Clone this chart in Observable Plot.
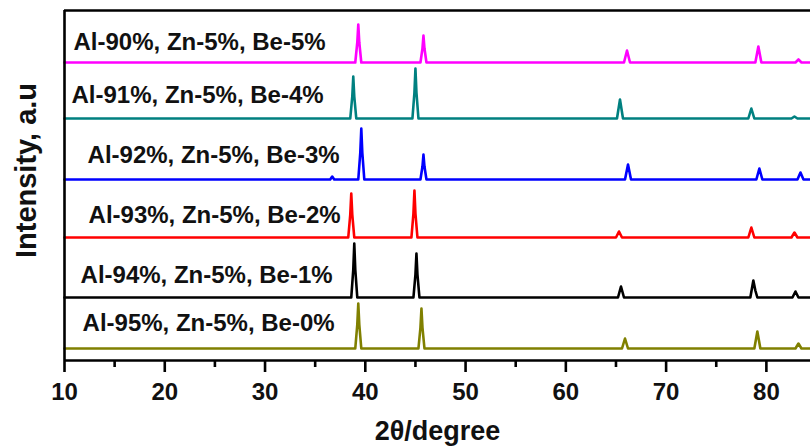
<!DOCTYPE html>
<html>
<head>
<meta charset="utf-8">
<script src="https://cdn.jsdelivr.net/npm/d3@7"></script>
<script src="https://cdn.jsdelivr.net/npm/@observablehq/plot@0.6"></script>
<style>
  html, body { margin: 0; padding: 0; background: #fff; }
  #chart svg { font-family: "Liberation Sans", Arial, sans-serif; }
</style>
</head>
<body>
<div id="chart"></div>
<script>
// Sample names (top to bottom in the figure)
const sampleNames = [
  "Al-90%, Zn-5%, Be-5%",
  "Al-91%, Zn-5%, Be-4%",
  "Al-92%, Zn-5%, Be-3%",
  "Al-93%, Zn-5%, Be-2%",
  "Al-94%, Zn-5%, Be-1%",
  "Al-95%, Zn-5%, Be-0%"
];
const sampleColors = ["#ff00ff", "#008080", "#0000ff", "#ff0000", "#000000", "#808000"];
// vertical stacking offset of each trace (intensity, a.u.)
const stackOffsets = [298, 242, 181, 123, 63, 12];

// Traces: [2θ, intensity]
const al90 = [[10,0],[39.0,0],[39.2,20],[39.3,38],[39.4,20],[39.6,0],[45.5,0],[45.7,14],[45.8,27],[45.9,14],[46.1,0],[65.8,0],[66.1,12],[66.4,0],[78.9,0],[79.2,16],[79.5,0],[82.9,0],[83.2,3],[83.5,0],[84.5,0]];
const al91 = [[10,0],[38.5,0],[38.7,22],[38.8,42],[38.9,22],[39.1,0],[44.7,0],[44.9,26],[45.0,50],[45.1,26],[45.3,0],[65.1,0],[65.4,19],[65.7,0],[78.2,0],[78.5,10],[78.8,0],[82.5,0],[82.8,2],[83.1,0],[84.5,0]];
const al92 = [[10,0],[36.5,0],[36.7,3],[36.9,0],[39.3,0],[39.5,27],[39.6,51],[39.7,27],[39.9,0],[45.5,0],[45.7,13],[45.8,25],[45.9,13],[46.1,0],[65.9,0],[66.2,15],[66.5,0],[79.0,0],[79.3,11],[79.6,0],[83.1,0],[83.4,7],[83.7,0],[84.5,0]];
const al93 = [[10,0],[38.3,0],[38.5,23],[38.6,44],[38.7,23],[38.9,0],[44.6,0],[44.8,24],[44.9,47],[45.0,24],[45.2,0],[65.0,0],[65.3,6],[65.6,0],[78.2,0],[78.5,10],[78.8,0],[82.5,0],[82.8,5],[83.1,0],[84.5,0]];
const al94 = [[10,0],[38.6,0],[38.8,28],[38.9,54],[39.0,28],[39.2,0],[44.8,0],[45.0,23],[45.1,44],[45.2,23],[45.4,0],[65.2,0],[65.5,11],[65.8,0],[78.4,0],[78.7,17],[78.9,7],[79.1,0],[82.6,0],[82.9,6],[83.2,0],[84.5,0]];
const al95 = [[10,0],[39.0,0],[39.2,24],[39.3,45],[39.4,24],[39.6,0],[45.3,0],[45.5,21],[45.6,40],[45.7,21],[45.9,0],[65.6,0],[65.9,10],[66.2,0],[78.8,0],[79.1,17],[79.4,0],[82.9,0],[83.2,5],[83.5,0],[84.5,0]];
const traces = [al90, al91, al92, al93, al94, al95];

// Axis ticks
const majorTicks = [10, 20, 30, 40, 50, 60, 70, 80];
const minorTicks = [15, 25, 35, 45, 55, 65, 75];

// Label anchor (2θ, intensity) for each sample name
const labelX = [10.9, 10.7, 12.3, 12.4, 11.6, 11.8];
const labelY = [318, 265, 205, 145, 85, 37];

const rows = traces.flatMap((t, i) =>
  t.map(([x, v]) => ({x, y: v + stackOffsets[i], s: sampleNames[i]})));
const labels = sampleNames.map((name, i) => ({name, x: labelX[i], y: labelY[i]}));

const chart = Plot.plot({
  width: 810,
  height: 448,
  marginLeft: 64,
  marginRight: 0,
  marginTop: 10,
  marginBottom: 88,
  x: {domain: [10, 84.4]},
  y: {domain: [0, 350], axis: null},
  color: {domain: sampleNames, range: sampleColors},
  marks: [
    Plot.line(rows, {x: "x", y: "y", z: "s", stroke: "s", strokeWidth: 2.6, curve: "linear"}),
    Plot.text(labels, {x: "x", y: "y", text: "name", textAnchor: "start", fontSize: 24, fontWeight: "bold", fill: "#111"}),
    Plot.ruleY([0], {stroke: "#000", strokeWidth: 2.6}),
    Plot.ruleY([350], {stroke: "#000", strokeWidth: 2.6}),
    Plot.ruleX([10], {stroke: "#000", strokeWidth: 2.6}),
    Plot.axisX({ticks: minorTicks, tickSize: 7, text: null, strokeWidth: 2.6, label: null}),
    Plot.axisX({ticks: majorTicks, tickSize: 12, tickPadding: 10, strokeWidth: 2.6, fontSize: 24, fontWeight: "bold", fill: "#111", label: null}),
    Plot.text(["2θ/degree"], {frameAnchor: "bottom", dy: 71, fontSize: 27, fontWeight: "bold", fill: "#111", textAnchor: "middle", lineAnchor: "middle"}),
    Plot.text(["Intensity, a.u"], {frameAnchor: "left", dx: -38, dy: -15, rotate: -90, fontSize: 29, fontWeight: "bold", fill: "#111", textAnchor: "middle", lineAnchor: "middle"})
  ]
});
document.getElementById("chart").appendChild(chart);
</script>
</body>
</html>
